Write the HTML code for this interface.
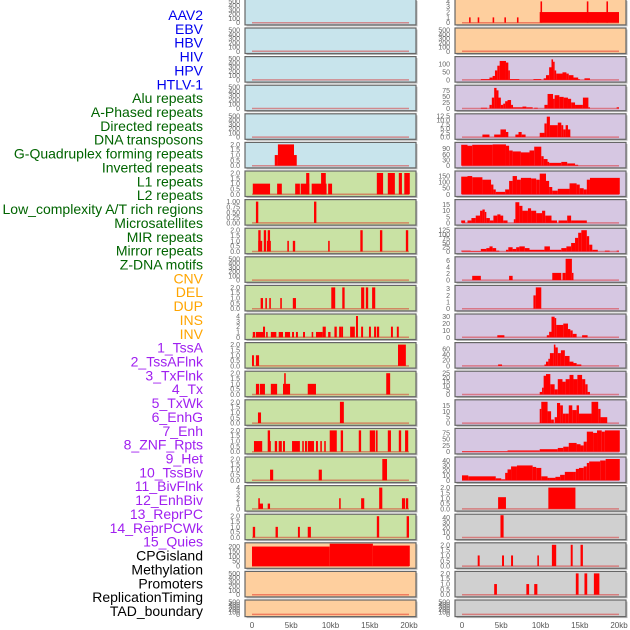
<!DOCTYPE html>
<html><head><meta charset="utf-8"><style>
html,body{margin:0;padding:0;background:#fff;width:630px;height:630px;overflow:hidden}
svg{display:block;font-family:"Liberation Sans",sans-serif}
</style></head><body>
<svg id="chart" width="630" height="630"></svg>
<script>
const labels=["AAV2","EBV","HBV","HIV","HPV","HTLV-1","Alu repeats","A-Phased repeats","Directed repeats","DNA transposons","G-Quadruplex forming repeats","Inverted repeats","L1 repeats","L2 repeats","Low_complexity A/T rich regions","Microsatellites","MIR repeats","Mirror repeats","Z-DNA motifs","CNV","DEL","DUP","INS","INV","1_TssA","2_TssAFlnk","3_TxFlnk","4_Tx","5_TxWk","6_EnhG","7_Enh","8_ZNF_Rpts","9_Het","10_TssBiv","11_BivFlnk","12_EnhBiv","13_ReprPC","14_ReprPCWk","15_Quies","CPGisland","Methylation","Promoters","ReplicationTiming","TAD_boundary"];
const labelColors=["#0000ee","#0000ee","#0000ee","#0000ee","#0000ee","#0000ee","#006400","#006400","#006400","#006400","#006400","#006400","#006400","#006400","#006400","#006400","#006400","#006400","#006400","#ffa500","#ffa500","#ffa500","#ffa500","#ffa500","#a020f0","#a020f0","#a020f0","#a020f0","#a020f0","#a020f0","#a020f0","#a020f0","#a020f0","#a020f0","#a020f0","#a020f0","#a020f0","#a020f0","#a020f0","#000","#000","#000","#000","#000"];
const xTicks=[0,5,10,15,20];
const xTickLabels=["0","5kb","10kb","15kb","20kb"];
const E=[];
const L5=[[2.9,3.3,1],[3.3,5.35,2],[5.35,5.7,1]];
const L6=[[0.1,2.3,1],[3.2,3.8,1],[5.5,6.1,1],[6.2,7.3,1],[6.9,7.3,2],[7.6,9.5,1],[8.8,9.4,2],[9.7,10.2,1],[15.9,16.7,2],[17.3,18.2,2],[18.7,19.1,2],[19.4,20.1,2]];
const L7=[[0.5,0.8,1],[7.9,8.2,1]];
const L8=[[0.8,1.1,2],[0.8,1.3,1],[1.5,1.8,2],[2.0,2.3,2],[1.9,2.4,1],[4.5,4.7,1],[5.2,5.5,1],[9.7,9.9,1],[13.8,14.1,2],[16.3,16.6,2],[19.6,19.9,2]];
const L10=[[1.1,1.4,1],[1.7,1.9,1],[2.2,2.4,1],[3.6,3.8,1],[5.2,5.6,1],[10.1,10.6,2],[11.5,11.8,2],[13.9,14.3,2],[14.5,14.8,2],[15.3,15.7,2]];
const L11=[[0.1,0.4,1],[0.5,1.4,1],[1.4,1.66,2],[1.8,2.0,1],[2.4,3.1,1],[3.4,3.95,1],[4.2,4.85,1],[5.1,5.35,1],[5.6,5.85,1],[6.5,6.75,1],[7.6,7.8,1],[8.15,9.0,1],[9.0,9.4,2],[9.7,10.0,1],[10.5,10.8,2],[11.1,11.35,2],[11.35,11.6,2],[12.5,13.1,2],[13.25,13.5,4],[13.9,14.15,2],[14.9,15.15,2],[15.55,15.8,2],[15.9,16.2,2],[17.7,17.95,2],[18.45,18.7,2]];
const L12=[[0,0.25,1],[0.5,0.9,1],[18.6,19.6,2]];
const L13=[[0.5,0.9,1],[1.0,1.65,1],[2.4,3.2,1],[3.95,4.85,1],[4.1,4.3,2],[7.1,8.15,1],[17.1,17.6,2]];
const L14=[[0.76,1.15,1],[11.2,11.7,2]];
const L15=[[0.25,1.3,1],[2.0,2.3,2],[2.2,2.4,1],[2.9,3.2,1],[3.4,3.8,1],[3.95,4.2,1],[5.1,6.1,1],[6.4,6.6,1],[6.75,7.0,1],[7.1,7.9,1],[8.15,8.4,1],[8.7,8.9,1],[9.2,9.4,1],[9.9,10.8,2],[11.3,11.6,2],[13.6,13.9,2],[15.0,15.7,2],[15.8,16.0,2],[17.3,17.7,2],[18.7,19.0,2],[19.5,19.9,2]];
const L16=[[2.3,2.7,1],[8.5,8.9,1],[16.6,17.2,2]];
const L17=[[0.8,1.0,2],[0.9,1.4,1],[2.0,2.3,1],[11.1,11.3,2],[13.9,14.3,2],[16.2,16.6,4],[19.1,19.5,2],[19.6,19.9,2]];
const L18=[[0.1,0.4,1],[3.0,3.3,1],[5.85,6.1,1],[7.1,7.5,1],[15.9,16.2,2],[19.7,20.0,2]];
const L19=[[0,9.9,200],[9.9,15.4,235],[15.4,20.1,210]];
const R0=[[0.9,1.1,1],[2.0,2.2,1],[3.9,4.1,1],[5.4,5.6,1],[7.0,7.2,1],[9.9,20.0,2],[10.0,10.2,4],[15.9,16.1,4],[18.4,18.6,4]];
const R2=[[2.4,3.5,5],[3.5,3.9,15],[3.9,4.2,25],[4.2,4.5,60],[4.5,4.8,90],[4.8,5.6,120],[5.6,5.9,110],[5.9,6.1,60],[6.1,7.3,5],[9.1,10.1,5],[10.4,10.7,10],[10.7,11.1,30],[11.1,11.4,80],[11.4,11.6,130],[11.6,11.8,115],[11.8,12.0,60],[12.0,12.8,40],[12.8,13.3,48],[13.3,13.6,40],[13.6,14.2,30],[14.2,14.8,15],[14.8,15.0,5],[15.6,16.3,10]];
const R3=[[2.4,3.2,3],[3.5,3.8,15],[3.8,4.1,45],[4.1,4.4,85],[4.4,4.65,75],[4.65,4.95,45],[4.95,5.25,15],[5.25,5.5,20],[5.5,5.8,30],[5.8,6.25,35],[6.25,6.5,15],[6.5,7.7,5],[7.7,8.2,8],[8.2,9.0,5],[9.2,9.65,3],[10.5,10.9,15],[10.9,11.6,60],[11.6,11.8,40],[11.8,12.4,55],[12.4,12.95,48],[12.95,13.5,45],[13.5,13.9,40],[13.9,14.4,25],[14.4,15.4,15],[15.4,16.1,45],[16.1,16.3,5],[19.7,20.0,5]];
const R4=[[2.6,3.5,1.5],[4.1,4.9,1.5],[4.9,5.6,4.5],[5.6,5.9,3],[6.8,7.2,1.5],[7.2,7.6,3],[7.6,8.1,1.5],[9.9,10.5,2.5],[10.5,10.8,8],[10.8,11.2,12],[11.2,12.2,7],[12.2,12.65,8.5],[12.65,12.9,7],[12.9,13.2,4.5],[13.2,13.5,7],[13.5,13.8,4.5]];
const R5=[[-0.1,0.7,110],[0.7,1.3,105],[1.3,3.9,110],[3.9,5.6,112],[5.6,6.0,105],[6.0,6.45,80],[6.45,7.5,75],[7.5,8.6,70],[8.6,9.2,80],[9.2,10.1,100],[10.1,10.4,50],[10.4,10.9,35],[10.9,11.1,20],[11.1,12.65,15],[12.65,13.4,20],[13.4,14.4,12],[14.4,14.8,5]];
const R6=[[-0.1,0.7,145],[0.7,1.3,150],[1.3,2.6,140],[2.6,3.7,120],[3.7,4.0,80],[4.0,4.3,40],[4.3,5.5,20],[5.5,6.0,40],[6.0,6.45,110],[6.45,7.0,150],[7.0,7.5,120],[7.5,8.8,135],[8.8,9.45,130],[9.45,9.9,120],[9.9,10.7,170],[10.7,11.1,110],[11.1,11.5,60],[11.5,12.2,30],[12.2,13.7,45],[13.7,14.6,90],[14.6,15.0,80],[15.0,15.5,50],[15.5,15.9,40],[15.9,16.3,120],[16.3,20.1,135]];
const R7=[[-0.1,0.4,2],[0.7,1.2,2],[1.2,1.75,4],[1.75,2.3,6],[2.3,2.6,10],[2.6,2.9,11],[2.9,3.1,9],[3.1,3.55,4],[3.55,4.0,2],[4.0,4.5,6],[4.5,4.9,7],[4.9,5.25,6],[5.25,5.8,2],[6.6,6.8,3],[6.8,7.3,17],[7.3,7.7,14],[7.7,8.4,10],[8.4,8.8,12],[8.8,9.45,10],[9.45,10.2,8],[10.2,10.6,10],[10.6,11.4,6],[11.4,12.1,2],[12.3,13.4,2],[13.4,13.9,6],[13.9,15.9,2]];
const R8=[[-0.1,1.1,5],[1.1,2.4,3],[2.4,3.1,15],[3.1,3.5,20],[3.5,3.9,30],[3.9,4.35,20],[4.35,4.75,5],[5.6,5.9,10],[5.9,6.45,25],[6.45,6.9,15],[6.9,7.3,25],[7.3,8.0,30],[8.0,8.6,20],[8.6,10.5,10],[10.5,11.2,30],[11.2,12.65,10],[12.65,13.3,20],[13.3,13.9,30],[13.9,14.4,50],[14.4,14.8,80],[14.8,15.2,110],[15.2,15.9,125],[15.9,16.2,90],[16.2,16.6,40],[16.6,17.3,10],[18.2,18.8,5],[19.7,20.0,5]];
const R9=[[1.3,2.4,1.3],[6.0,6.45,1.3],[11.5,12.65,2.2],[12.8,13.2,2.2],[13.2,14.0,6.5],[14.0,14.2,2.2]];
const R10=[[9.1,9.4,2],[9.4,10.1,3.2]];
const R11=[[4.5,5.4,3],[10.8,11.1,3],[11.1,11.4,8],[11.4,11.8,30],[11.8,12.0,28],[12.0,12.9,18],[12.9,13.5,20],[13.5,13.8,12],[13.8,14.1,10],[14.1,14.6,5],[15.3,16.0,3]];
const R12=[[4.6,5.1,5],[10.5,10.7,5],[10.7,11.0,15],[11.0,11.2,25],[11.2,11.7,45],[11.7,11.9,75],[11.9,12.2,65],[12.2,12.6,45],[12.6,13.1,55],[13.1,13.7,35],[13.7,14.2,15],[14.2,14.6,10],[14.6,15.2,5]];
const R13=[[9.9,10.2,3],[10.2,10.4,8],[10.4,10.7,22],[10.7,11.25,24],[11.25,11.8,12],[11.8,12.2,6],[12.2,12.8,18],[12.8,13.2,15],[13.2,13.7,18],[13.7,14.2,23],[14.2,14.7,18],[14.7,15.3,23],[15.3,15.7,18],[15.7,16.0,12],[16.0,16.3,3]];
const R14=[[9.9,10.1,12],[10.1,10.9,18],[10.9,11.35,10],[11.35,11.7,3],[11.8,12.1,5],[12.1,12.5,17],[12.5,12.85,15],[12.85,13.2,8],[13.2,13.6,8],[13.6,14.05,15],[14.05,14.6,11],[14.6,14.9,15],[14.9,16.5,8],[16.5,17.35,18],[17.35,17.65,12],[17.65,18.5,5]];
const R15=[[0,5.8,2],[5.8,9.9,5],[9.9,12.2,10],[12.2,12.9,15],[12.9,13.6,20],[13.6,14.6,35],[14.6,15.1,30],[15.1,15.5,25],[15.5,15.9,40],[15.9,16.7,80],[16.7,17.2,75],[17.2,17.8,85],[17.8,18.2,80],[18.2,20.1,85]];
const R16=[[0,0.8,10],[0.8,4.3,8],[4.3,5.0,4],[5.0,5.5,2],[5.5,5.8,15],[5.8,6.25,22],[6.25,7.0,28],[7.0,9.0,30],[9.0,9.45,27],[9.45,10.1,25],[10.1,10.9,8],[10.9,11.2,5],[11.2,11.9,5],[11.9,12.5,7],[12.5,13.1,11],[13.1,14.2,17],[14.2,14.5,17],[14.5,14.9,23],[14.9,15.5,25],[15.5,15.9,28],[15.9,16.2,35],[16.2,17.6,38],[17.6,18.3,40],[18.3,20.1,43]];
const R17=[[4.6,5.6,1.1],[11.0,14.45,2]];
const R18=[[4.9,5.3,45]];
const R19=[[2.0,2.25,1],[5.1,5.35,1],[6.25,6.5,1],[9.6,9.8,1],[11.45,12.0,2],[13.85,14.1,2],[15.1,15.4,2]];
const R20=[[4.1,4.45,1],[8.2,8.55,1],[9.2,9.6,1],[14.5,14.85,2],[15.6,15.95,2],[16.8,17.5,2]];

const T500=[0,100,200,300,400,500], T2=[0,0.5,1,1.5,2], T4=[0,1,2,3,4];
const BL="#c8e4ec",GR="#c9e2a4",OR="#fecf9e",PU="#d6c7e2",GY="#d0d0d0";
const leftPanels=[
[BL,500,T500,E],[BL,500,T500,E],[BL,500,T500,E],[BL,500,T500,E],[BL,500,T500,E],[BL,2,T2,L5],
[GR,2,T2,L6],[GR,1,[0,0.25,0.5,0.75,1],L7],[GR,2,T2,L8],[GR,500,T500,E],[GR,2,T2,L10],[GR,4,T4,L11],[GR,2,T2,L12],[GR,2,T2,L13],[GR,2,T2,L14],[GR,2,T2,L15],[GR,2,T2,L16],[GR,4,T4,L17],[GR,2,T2,L18],
[OR,218,[0,50,100,150,200],L19],[OR,500,T500,E],[OR,500,T500,E]];
const rightPanels=[
[OR,4,T4,R0],[OR,500,T500,E],[PU,135,[0,50,100],R2],[PU,88,[0,25,50,75],R3],[PU,12.5,[0,2.5,5,7.5,10,12.5],R4],[PU,112,[0,30,60,90],R5],
[PU,175,[0,50,100,150],R6],[PU,17.5,[0,5,10,15],R7],[PU,125,[0,25,50,75,100,125],R8],[PU,6.5,[0,2,4,6],R9],[PU,3.2,[0,1,2,3],R10],[PU,31,[0,10,20,30],R11],[PU,75,[0,20,40,60],R12],[PU,25,[0,5,10,15,20,25],R13],[PU,18,[0,5,10,15],R14],[PU,85,[0,25,50,75],R15],[PU,43,[0,10,20,30,40],R16],
[GY,2,T2,R17],[GY,43,[0,10,20,30,40],R18],[GY,2,T2,R19],[GY,2,T2,R20],[GY,500,T500,E]];

const NS="http://www.w3.org/2000/svg";
const svg=document.getElementById('chart');
function mk(tag,attrs,parent){const e=document.createElementNS(NS,tag);for(const k in attrs)e.setAttribute(k,attrs[k]);(parent||svg).appendChild(e);return e;}
function fmtTicks(ticks){
  let d=0;
  ticks.forEach(v=>{const s=String(v);if(s.indexOf('.')>=0)d=Math.max(d,s.split('.')[1].length);});
  return ticks.map(v=>d?v.toFixed(d):String(v));
}

labels.forEach((t,i)=>{
  const e=mk('text',{x:203,y:15+i*13.86+5,'text-anchor':'end','font-size':14,fill:labelColors[i]});
  
  
  e.textContent=t;
});

function drawCol(panels,px,col){
  const pw=171;
  const x0=px+7;
  const xs=kb=>x0+kb*((pw-14)/20);
  panels.forEach((p,i)=>{
    const top=i*28.6-0.6, h=(i===21?16.6:25.5);
    const g=mk('g',{});
    
    
    mk('rect',{x:px+1.5,y:top+1.5,width:pw,height:h,fill:'#bbb'},g);
    mk('rect',{x:px,y:top,width:pw,height:h,fill:p[0],stroke:'#666','stroke-width':1.2},g);
    const yb=top+h-2.2, yt=top+2;
    const ys=v=>yb-(Math.min(v,p[1]*1.05)/p[1])*(yb-yt);
    mk('line',{x1:xs(0),x2:xs(20),y1:yb,y2:yb,stroke:'rgba(220,0,0,0.4)','stroke-width':1.5},g);
    p[3].forEach(s=>{
      const b=mk('rect',{x:xs(s[0]),y:ys(s[2]),width:Math.max(1.5,xs(s[1])-xs(s[0])),height:yb-ys(s[2]),fill:'#ff0000'},g);
      
      
    });
    const tl=fmtTicks(p[2]);
    p[2].forEach((tv,k)=>{
      const t=mk('text',{x:px-5,y:ys(tv)+2.5,'text-anchor':'end','font-size':7,fill:'#666'},g);
      
      
      t.textContent=tl[k];
    });
  });
  xTicks.forEach((v,i)=>{
    const t=mk('text',{x:xs(v),y:628,'text-anchor':'middle','font-size':8,fill:'#555'});
    
    
    t.textContent=xTickLabels[i];
  });
}
drawCol(leftPanels,245,'left');
drawCol(rightPanels,455,'right');
</script>
</body></html>
